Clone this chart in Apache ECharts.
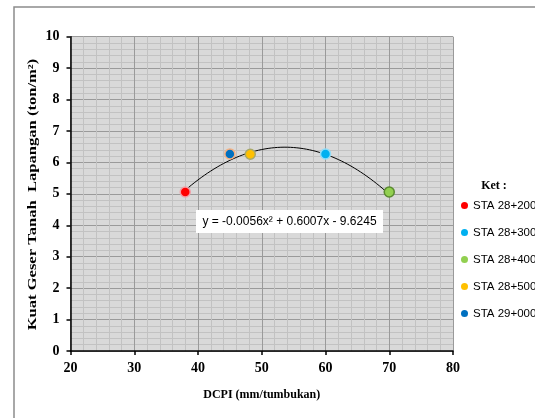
<!DOCTYPE html>
<html>
<head>
<meta charset="utf-8">
<script src="https://cdn.jsdelivr.net/npm/echarts@6/dist/echarts.min.js"></script>
<style>
html,body{margin:0;padding:0;background:#fff;}
#main{width:535px;height:418px;}
</style>
</head>
<body>
<div id="main"></div>
<script>
// ---- data ----
const stations = ['STA 28+200', 'STA 28+300', 'STA 28+400', 'STA 28+500', 'STA 29+000'];
const dcpi = [38, 60, 70, 48.2, 45];
const shearStrength = [5.06, 6.27, 5.06, 6.26, 6.27];
const trendCoef = [-0.0056, 0.6007, -9.6245]; // a, b, c
const xTicks = [20, 30, 40, 50, 60, 70, 80];
const yTicks = [0, 1, 2, 3, 4, 5, 6, 7, 8, 9, 10];
const equationText = 'y = -0.0056x\u00B2 + 0.6007x - 9.6245';

// ---- styles ----
const fills = ['#ff0000', '#00b0f0', '#92d050', '#ffc000', '#0070c0'];
const borders = ['#f2a0a8', '#8fdcf8', '#5a8a30', '#a8a868', '#f4b183'];

const chart = echarts.init(document.getElementById('main'));

const xMin = Math.min.apply(null, dcpi), xMax = Math.max.apply(null, dcpi);
const trend = [];
for (let x = xMin; x <= xMax + 1e-9; x += 0.25) {
  trend.push([x, trendCoef[0] * x * x + trendCoef[1] * x + trendCoef[2]]);
}

const serif = 'Liberation Serif';
const series = [{
  type: 'line',
  data: trend,
  showSymbol: false,
  silent: true,
  lineStyle: { color: '#000', width: 1 },
  z: 2
}];
stations.forEach((s, i) => {
  series.push({
    name: s,
    type: 'scatter',
    data: [[dcpi[i], shearStrength[i]]],
    symbolSize: 10,
    itemStyle: { color: fills[i], borderColor: borders[i], borderWidth: 1.5, opacity: 1 },
    z: 3
  });
});

chart.setOption({
  animation: false,
  backgroundColor: '#fff',
  grid: {
    left: 70.5, right: 82, top: 36.7, bottom: 67,
    show: true, backgroundColor: '#d9d9d9', borderWidth: 0
  },
  xAxis: {
    type: 'value', min: xTicks[0], max: xTicks[xTicks.length - 1], interval: 10,
    name: 'DCPI (mm/tumbukan)', nameLocation: 'middle', nameGap: 38,
    nameTextStyle: { fontFamily: serif, fontWeight: 'bold', fontSize: 12, color: '#000' },
    axisLine: { show: true, lineStyle: { color: '#000', width: 1.5 } },
    axisTick: { show: true, inside: false, length: 4, lineStyle: { color: '#000', width: 1.5 } },
    axisLabel: { fontFamily: serif, fontWeight: 'bold', fontSize: 14, color: '#000', margin: 10 },
    splitLine: { show: true, lineStyle: { color: '#9a9a9a', width: 1 } },
    minorTick: { show: false, splitNumber: 5 },
    minorSplitLine: { show: true, lineStyle: { color: '#c2c2c2', width: 1 } }
  },
  yAxis: {
    type: 'value', min: yTicks[0], max: yTicks[yTicks.length - 1], interval: 1,
    axisLine: { show: true, lineStyle: { color: '#000', width: 1.5 } },
    axisTick: { show: true, inside: false, length: 4, lineStyle: { color: '#000', width: 1.5 } },
    axisLabel: { fontFamily: serif, fontWeight: 'bold', fontSize: 14, color: '#000', margin: 11 },
    splitLine: { show: true, lineStyle: { color: '#9a9a9a', width: 1 } },
    minorTick: { show: false, splitNumber: 5 },
    minorSplitLine: { show: true, lineStyle: { color: '#c2c2c2', width: 1 } }
  },
  legend: {
    orient: 'vertical',
    left: 461, top: 198.5,
    itemWidth: 7, itemHeight: 7,
    itemGap: 13,
    icon: 'circle',
    padding: 0,
    textStyle: { fontFamily: 'Liberation Sans', fontSize: 11.5, color: '#000', lineHeight: 14 },
    data: stations.map((s, i) => ({ name: s, itemStyle: { color: fills[i], borderWidth: 0 } }))
  },
  graphic: [
    {
      type: 'rect', left: 11.5, top: 4.5, z: 0, silent: true,
      shape: { width: 600, height: 500 },
      style: { fill: 'none', stroke: '#8c8c8c', lineWidth: 1.5 }
    },
    {
      type: 'text', x: 32.5, y: 194.5, rotation: Math.PI / 2, scaleX: 1.38, z: 100,
      style: {
        text: 'Kuat Geser Tanah  Lapangan (ton/m\u00B2)',
        font: 'bold 12px "Liberation Serif"', fill: '#000',
        align: 'center', verticalAlign: 'middle'
      }
    },
    {
      type: 'text', x: 494, y: 186, z: 100,
      style: {
        text: 'Ket :', font: 'bold 12px "Liberation Serif"', fill: '#000',
        align: 'center', verticalAlign: 'middle'
      }
    },
    {
      type: 'rect', x: 196, y: 210, z: 100, silent: true,
      shape: { x: 0, y: 0, width: 187, height: 23 },
      style: { fill: '#ffffff', stroke: null }
    },
    {
      type: 'text', x: 289.5, y: 221.5, z: 101, silent: true,
      style: { text: equationText, font: '12px "Liberation Sans"', fill: '#000', align: 'center', verticalAlign: 'middle' }
    }
  ],
  series: series
});
</script>
</body>
</html>
